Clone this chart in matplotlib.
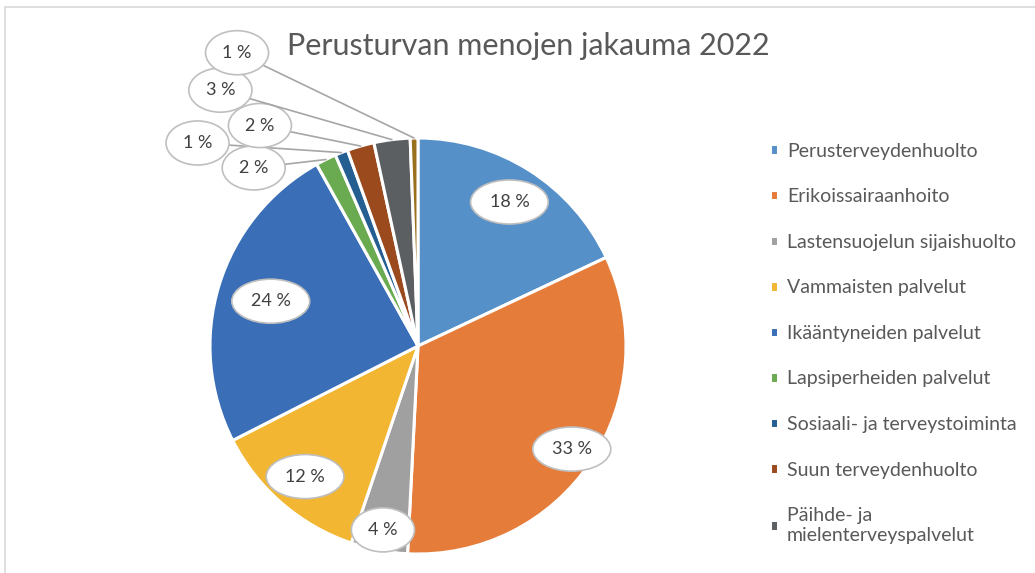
import numpy as np
import matplotlib
matplotlib.use("Agg")
import matplotlib.pyplot as plt
from matplotlib.patches import Rectangle

# data
#-----------------------------------------------------------------------------#
categories = ["Perusterveydenhuolto", "Erikoissairaanhoito", "Lastensuojelun sijaishuolto",
              "Vammaisten palvelut", "Ikääntyneiden palvelut", "Lapsiperheiden palvelut",
              "Sosiaali- ja terveystoiminta", "Suun terveydenhuolto",
              "Päihde- ja\nmielenterveyspalvelut", "Muut palvelut"]
shares = [18.0, 32.8, 4.4, 12.3, 24.4, 1.6, 1.0, 2.1, 2.8, 0.6]
labels = ["18 %", "33 %", "4 %", "12 %", "24 %", "2 %", "1 %", "2 %", "3 %", "1 %"]
title = "Perusturvan menojen jakauma 2022"

colors = ["#5590c8", "#e57c3a", "#a0a0a0", "#f2b632", "#3a6fb8",
          "#6aaa50", "#255e91", "#9b4a1e", "#5c5f62", "#98701e"]

# label radius for the big slices, callout box positions for the small ones
inner_r = [0.82, 0.89, 0.90, 0.83, 0.74]
callout_xy = {5: (-0.79, 0.856), 6: (-1.06, 0.976), 7: (-0.76, 1.06),
              8: (-0.95, 1.23), 9: (-0.87, 1.41)}
n_legend = 9   # the last entry falls below the chart area in the original

W, H = 1035, 573
cx, cy, R = 418, 346, 208

plt.rcParams['font.family'] = ['Lato', 'DejaVu Sans']
fig = plt.figure(figsize=(W/100, H/100), dpi=100)

# chart frame
fig.patches.append(Rectangle((5/W, -0.1), 1.2, 1 - 7/H + 0.1, transform=fig.transFigure,
                             fill=False, edgecolor="#d9d9d9", lw=1.2))

ax = fig.add_axes([(cx-R)/W, (H-cy-R)/H, 2*R/W, 2*R/H])
wedges, _ = ax.pie(shares, colors=colors, startangle=90, counterclock=False, radius=1,
                   wedgeprops=dict(edgecolor="white", linewidth=2.2))
ax.set_xlim(-1, 1)
ax.set_ylim(-1, 1)
ax.set_aspect("equal")
ax.axis("off")

box = dict(boxstyle="ellipse,pad=0.42", fc="white", ec="#bfbfbf", lw=1.2)
for i, w in enumerate(wedges):
    mid = np.deg2rad((w.theta1 + w.theta2) / 2)
    if i < len(inner_r):
        ax.text(inner_r[i]*np.cos(mid), inner_r[i]*np.sin(mid), labels[i],
                ha="center", va="center", fontsize=13, color="#404040", bbox=box)
    else:
        z = 3 if i == 6 else 5
        ax.annotate(labels[i], xy=(np.cos(mid), np.sin(mid)), xytext=callout_xy[i],
                    ha="center", va="center", fontsize=13, color="#404040", bbox=box,
                    annotation_clip=False, zorder=z,
                    arrowprops=dict(arrowstyle="-", color="#a6a6a6", lw=1.2,
                                    shrinkA=0, shrinkB=0))

fig.text(528/W, 1 - 46/H, title, ha="center", va="center", fontsize=22, color="#595959")

fig.legend(wedges[:n_legend], categories[:n_legend], loc="upper left",
           bbox_to_anchor=(752/W, 1 - 125/H),
           frameon=False, fontsize=14, labelcolor="#595959", handlelength=0.45,
           handleheight=0.45, handletextpad=0.45, labelspacing=1.47)

fig.savefig("out.png", dpi=100)
